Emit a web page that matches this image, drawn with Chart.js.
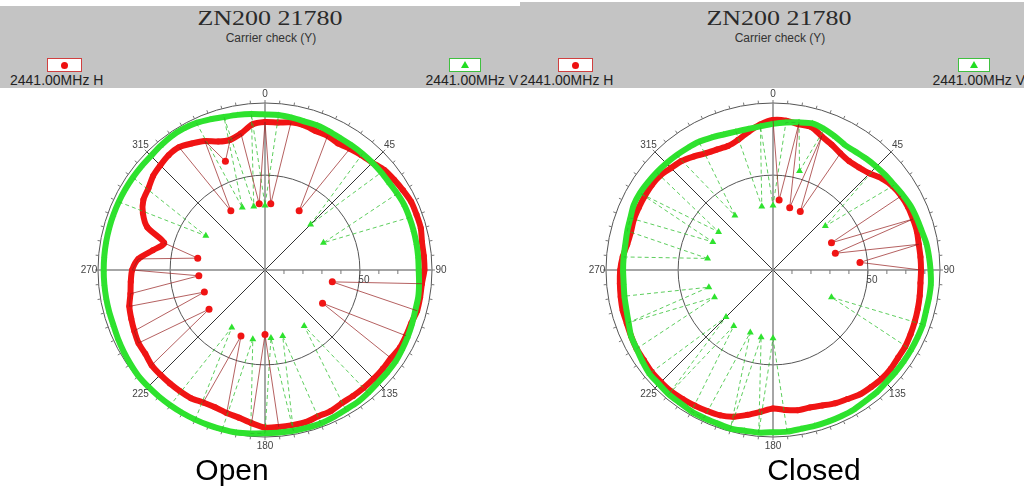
<!DOCTYPE html>
<html>
<head>
<meta charset="utf-8">
<script src="https://cdn.jsdelivr.net/npm/chart.js@4.4.1/dist/chart.umd.min.js"></script>
<style>
  body { margin: 0; width: 1024px; height: 487px; overflow: hidden; background: #fff; position: relative;
         font-family: "Liberation Sans", Arial, sans-serif; }
  .hdr { position: absolute; background: #c4c4c4; z-index: 1; }
  .panel { position: absolute; top: 0; width: 520px; height: 90px; z-index: 2; }
  .title { position: absolute; left: 0; width: 540px; top: 7px; text-align: center; line-height: 22px;
           font-family: "Liberation Serif", "Times New Roman", serif; font-size: 20px; color: #2a2a2a;
           transform: scaleX(1.3); }
  .sub { position: absolute; left: 0; width: 542px; top: 31px; text-align: center; line-height: 14px;
         font-size: 12px; color: #333; }
  .lab { position: absolute; top: 72px; line-height: 16px; font-size: 14px; color: #222; white-space: nowrap; }
  .box { position: absolute; top: 58px; height: 12px; background: #fff; }
  .dot { position: absolute; left: 50%; top: 50%; width: 7px; height: 7px; margin: -3.5px 0 0 -3.5px;
         border-radius: 50%; background: #ee1111; }
  .tri { position: absolute; left: 50%; top: 2px; margin-left: -4px; width: 0; height: 0;
         border-left: 4px solid transparent; border-right: 4px solid transparent; border-bottom: 7px solid #22dd22; }
  .wrap { position: absolute; top: 80px; width: 380px; height: 380px; }
  .cap { position: absolute; top: 454px; width: 200px; text-align: center; font-size: 30px; line-height: 32px; color: #000; z-index: 3; }
</style>
</head>
<body>
<div class="hdr" style="left:0;top:6px;width:520px;height:82px"></div>
<div class="hdr" style="left:520px;top:2px;width:504px;height:86px"></div>

<div class="panel" style="left:0">
  <div class="title">ZN200 21780</div>
  <div class="sub">Carrier check (Y)</div>
  <div class="box" style="left:47px;width:33px;border:1px solid #d04040"><div class="dot"></div></div>
  <div class="lab" style="left:10px">2441.00MHz H</div>
  <div class="box" style="left:449px;width:30px;border:1px solid #40c040"><div class="tri"></div></div>
  <div class="lab" style="right:2px">2441.00MHz V</div>
</div>
<div class="panel" style="left:509px">
  <div class="title">ZN200 21780</div>
  <div class="sub">Carrier check (Y)</div>
  <div class="box" style="left:49px;width:33px;border:1px solid #d04040"><div class="dot"></div></div>
  <div class="lab" style="left:11px">2441.00MHz H</div>
  <div class="box" style="left:449px;width:30px;border:1px solid #40c040"><div class="tri"></div></div>
  <div class="lab" style="right:4px">2441.00MHz V</div>
</div>

<div class="wrap" style="left:75px"><canvas id="chartOpen"></canvas></div>
<div class="wrap" style="left:583px"><canvas id="chartClosed"></canvas></div>

<div class="cap" style="left:132px">Open</div>
<div class="cap" style="left:714px">Closed</div>

<script>
// angles every 5 degrees, clockwise from the top
const angles = Array.from({ length: 72 }, (_, i) => i * 5);
const angleMarks = [0, 45, 90, 135, 180, 225, 270, 315];
const ringValues = [0, 50, 88];
const axisTicks = [10, 20, 30, 40, 50, 60, 70, 80];

// Open - 2441.00MHz H / V
const openH = [78, 78, 79, 79, 78, 78, 77, 78, 79, 80,
  82, 83, 84, 85, 85, 85, 84, 84, 84, 83,
  83, 83, 82, 82, 82, 81, 81, 81, 81, 81,
  81, 82, 82, 83, 83, 83, 83, 81, 79, 78,
  77, 77, 78, 78, 78, 78, 78, 77, 77, 76,
  75, 74, 72, 71, 70, 67, 60, 55, 66, 71,
  74, 75, 77, 78, 79, 79, 77, 75, 72, 71,
  73, 77];
const openV = [82, 82, 81.5, 81, 81, 80.5, 80, 80, 80, 80,
  80, 80, 80.5, 81, 81, 81, 81, 81, 81, 81.5,
  82, 82, 82.5, 83, 83.5, 84, 84, 84, 84.5, 85,
  85, 85.5, 86, 86, 86, 86, 86, 86.5, 87, 87,
  87, 87, 87, 87, 87, 87, 87, 86.5, 86, 85.5,
  85, 85, 85, 85, 85, 85, 85, 85, 85, 85,
  85, 85, 85, 85, 85.5, 86, 86, 85.5, 84.5, 83.5,
  83, 82.5];
// dropouts: [angle, value]
const openHDrops = [[5, 35], [30, 36], [100, 36], [120, 35], [180, 34], [200, 37], [235, 36],
  [250, 34], [265, 35], [280, 36], [330, 36], [340, 61], [355, 35]];
const openVDrops = [[0, 34], [45, 34], [65, 34], [145, 36], [165, 36], [175, 36], [190, 37],
  [210, 35], [300, 36], [340, 35], [350, 34]];

// Closed - 2441.00MHz H / V
const closedH = [79, 79, 78, 78, 75, 73, 71, 70, 70.5, 72,
  75, 77, 78, 78.5, 78.5, 78.5, 78, 78, 78, 78,
  78.5, 79, 79.5, 80, 80.5, 80.5, 81, 81, 80.5, 80,
  78.5, 77.5, 76, 75, 75, 74, 73, 75, 77.5, 80,
  81.5, 82, 82.5, 83, 83.5, 83.5, 83.5, 83, 83, 82.5,
  82, 82, 81.5, 81, 80.5, 79.5, 78, 77.5, 78, 78,
  78, 78, 77.5, 76, 75, 73, 71, 70, 69.5, 71,
  74, 77];
const closedV = [77, 78, 79, 80, 79, 77.5, 76, 76, 76.5, 77,
  77.5, 78, 79, 80, 80.5, 81, 82, 82.5, 83, 83.5,
  83.5, 83.5, 84, 84, 84, 84, 84, 84, 84.5, 84.5,
  85, 85, 85, 85, 85, 85.5, 85.5, 86, 86, 86.5,
  86, 86, 86, 85.5, 85.5, 85, 85, 84, 83, 82.5,
  81, 80, 79.5, 79, 79, 79, 79, 79.5, 80, 81,
  81, 80.5, 80, 79.5, 79, 78.5, 78, 77, 76, 75.5,
  75.5, 76];
const closedHDrops = [[5, 37], [15, 34], [25, 34], [65, 34], [75, 34], [85, 46]];
const closedVDrops = [[0, 34], [15, 54], [50, 36], [115, 34], [180, 36], [190, 36], [200, 35],
  [215, 36], [225, 35], [245, 34], [255, 35], [280, 35], [295, 35], [305, 35], [325, 35], [350, 34]];

const RED = '#f01414';
const GREEN = '#2ee22e';

// thin spike line: curve -> dropout -> curve
function spikeSeries(curve, drops) {
  const n = curve.length;
  const out = curve.map(() => null);
  drops.forEach(([deg, v]) => {
    const i = angles.indexOf(deg);
    const prev = (i - 1 + n) % n, next = (i + 1) % n;
    if (out[prev] === null) out[prev] = curve[prev];
    if (out[next] === null) out[next] = curve[next];
    out[i] = v;
  });
  return out;
}

const polarDeco = {
  id: 'polarDeco',
  beforeDatasetsDraw(chart) {
    const s = chart.scales.r;
    const ctx = chart.ctx;
    const R = s.drawingArea;
    ctx.save();
    ctx.strokeStyle = '#777';
    ctx.lineWidth = 1;
    // small ticks round the outer ring
    angles.forEach((a, i) => {
      const p1 = s.getPointPosition(i, R);
      const p2 = s.getPointPosition(i, R + 3);
      ctx.beginPath(); ctx.moveTo(p1.x, p1.y); ctx.lineTo(p2.x, p2.y); ctx.stroke();
    });
    // ticks along the 90 axis
    const i90 = angles.indexOf(90);
    axisTicks.forEach(v => {
      const p = s.getPointPosition(i90, s.getDistanceFromCenterForValue(v));
      ctx.beginPath(); ctx.moveTo(p.x, p.y); ctx.lineTo(p.x, p.y + 4); ctx.stroke();
    });
    ctx.restore();
  },
  afterDraw(chart) {
    const s = chart.scales.r;
    const ctx = chart.ctx;
    ctx.save();
    ctx.font = '10px "Liberation Sans", Arial, sans-serif';
    ctx.fillStyle = '#444';
    ctx.textAlign = 'center';
    ctx.textBaseline = 'middle';
    angleMarks.forEach(a => {
      const p = s.getPointPosition(angles.indexOf(a), s.drawingArea + 9);
      ctx.fillText(String(a), p.x, p.y);
    });
    const p50 = s.getPointPosition(angles.indexOf(90), s.getDistanceFromCenterForValue(50));
    ctx.fillText('50', p50.x + 4, p50.y + 10);
    ctx.restore();
  }
};

function makePolar(id, hData, vData, hDrops, vDrops) {
  const hIdx = new Set(hDrops.map(d => angles.indexOf(d[0])));
  const vIdx = new Set(vDrops.map(d => angles.indexOf(d[0])));
  new Chart(document.getElementById(id), {
    type: 'radar',
    data: {
      labels: angles.map(String),
      datasets: [
        {
          label: 'H dropouts',
          data: spikeSeries(hData, hDrops),
          borderColor: 'rgba(150, 30, 30, 0.7)',
          borderWidth: 1,
          fill: false,
          spanGaps: false,
          tension: 0,
          pointStyle: 'circle',
          pointRadius: ctx => hIdx.has(ctx.dataIndex) ? 3.5 : 0,
          pointBackgroundColor: RED,
          pointBorderWidth: 0
        },
        {
          label: 'V dropouts',
          data: spikeSeries(vData, vDrops),
          borderColor: 'rgba(40, 190, 40, 0.75)',
          borderWidth: 1,
          borderDash: [4, 3],
          fill: false,
          spanGaps: false,
          tension: 0,
          pointStyle: 'triangle',
          pointRadius: ctx => vIdx.has(ctx.dataIndex) ? 4 : 0,
          pointBackgroundColor: GREEN,
          pointBorderWidth: 0
        },
        {
          label: '2441.00MHz V',
          data: vData,
          borderColor: GREEN,
          borderWidth: 6,
          fill: false,
          tension: 0.25,
          pointStyle: 'triangle',
          pointRadius: 3.5,
          pointBackgroundColor: GREEN,
          pointBorderWidth: 0
        },
        {
          label: '2441.00MHz H',
          data: hData,
          borderColor: RED,
          borderWidth: 6,
          fill: false,
          tension: 0.25,
          pointStyle: 'circle',
          pointRadius: 3,
          pointBackgroundColor: RED,
          pointBorderWidth: 0
        }
      ]
    },
    options: {
      responsive: true,
      maintainAspectRatio: false,
      animation: false,
      layout: { padding: 23 },
      plugins: { legend: { display: false }, tooltip: { enabled: false } },
      scales: {
        r: {
          min: 0,
          max: 88,
          afterBuildTicks: s => { s.ticks = ringValues.map(v => ({ value: v })); },
          ticks: { display: false },
          grid: { circular: true, color: '#555', lineWidth: 1 },
          angleLines: {
            display: true,
            color: ctx => angleMarks.includes(angles[ctx.index]) ? (angles[ctx.index] % 90 === 0 ? '#888' : '#333') : 'rgba(0,0,0,0)',
            lineWidth: ctx => angles[ctx.index] % 90 === 0 ? 1.5 : 1
          },
          pointLabels: { display: false }
        }
      }
    },
    plugins: [polarDeco]
  });
}

makePolar('chartOpen', openH, openV, openHDrops, openVDrops);
makePolar('chartClosed', closedH, closedV, closedHDrops, closedVDrops);
</script>
</body>
</html>
